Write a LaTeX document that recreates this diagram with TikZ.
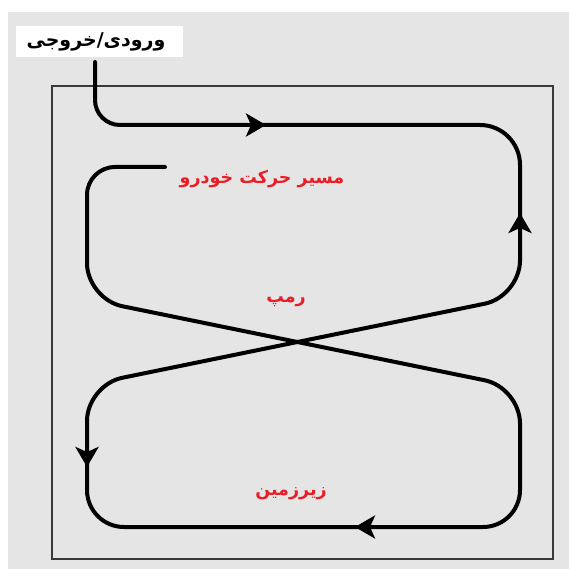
\documentclass[tikz,border=0pt]{standalone}
\usepackage{fontspec}
\usetikzlibrary{arrows.meta}
\TeXXeTstate=1
\newfontfamily\arabicfont[Script=Arabic]{DejaVu Sans}
\definecolor{paper}{HTML}{E5E5E5}
\definecolor{labelred}{HTML}{EC1C24}
\definecolor{frame}{HTML}{3A3A3A}
\tikzset{
  track/.style={line width=4pt, black, line cap=round},
  tip/.style={line width=4pt, black, -{Stealth[length=20pt,width=23pt,inset=5pt]}},
  redlabel/.style={text=labelred, font=\arabicfont\bfseries\fontsize{17.5}{20}\selectfont, inner sep=0pt},
  blacklabel/.style={text=black, font=\arabicfont\bfseries\fontsize{19}{22}\selectfont, inner sep=0pt},
}
\begin{document}
\begin{tikzpicture}[x=1pt, y=-1pt]
  \useasboundingbox (0,0) rectangle (569,569);
  % page background
  \fill[white] (0,0) rectangle (569,569);
  \fill[paper] (8,12) rectangle (569,569);
  \fill[white] (16,26) rectangle (183,57);

  % building outline
  \draw[frame, line width=1.8pt] (52,86) rectangle (553,559);

  % vehicle route
  \draw[track] (95,62) [rounded corners=25pt] -- (95,125) [rounded corners=40pt] -- (520,125)
    [rounded corners=36pt] -- (520,296.5) -- (87,385) [rounded corners=37pt] -- (87,527) -- (520,527)
    [rounded corners=36pt] -- (520,387.5) -- (87,299) [rounded corners=28pt] -- (87,167) -- (165,167);

  % direction arrows
  \coordinate (a1) at (245,125); \coordinate (b1) at (266,125);
  \coordinate (a2) at (520,233); \coordinate (b2) at (520,213);
  \coordinate (a3) at (87,447); \coordinate (b3) at (87,467);
  \coordinate (a4) at (375,527); \coordinate (b4) at (355,527);
  \draw[tip] (a1) -- (b1);
  \draw[tip] (a2) -- (b2);
  \draw[tip] (a3) -- (b3);
  \draw[tip] (a4) -- (b4);

  % labels
  \node[blacklabel] (entry) at (96,42) {\beginR ورودی/خروجی\endR};
  \node[redlabel] (route) at (262,179) {\beginR مسیر حرکت خودرو\endR};
  \node[redlabel] (ramp) at (286,302) {\beginR رمپ\endR};
  \node[redlabel] (base) at (291,494) {\beginR زیرزمین\endR};
\end{tikzpicture}
\end{document}
